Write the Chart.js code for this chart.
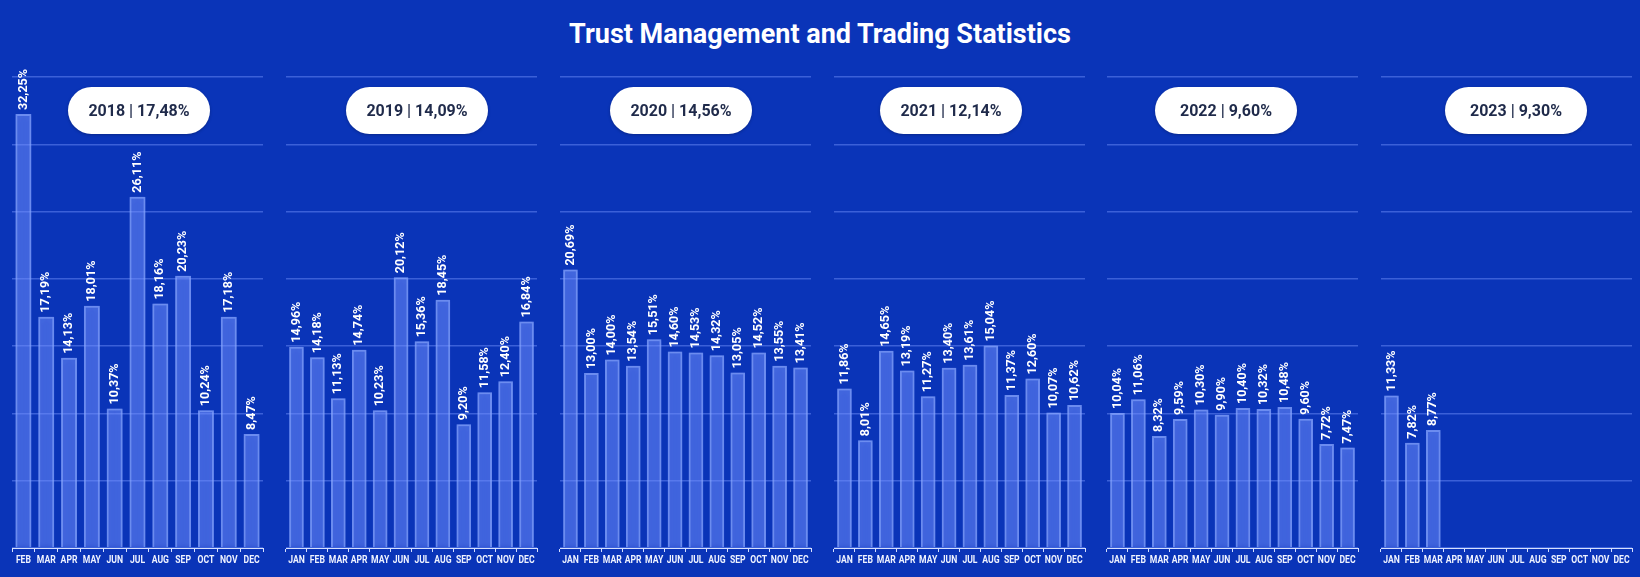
<!DOCTYPE html>
<html>
<head>
<meta charset="utf-8">
<script src="https://cdn.jsdelivr.net/npm/chart.js@4.4.1/dist/chart.umd.min.js"></script>
<style>
  html, body { margin: 0; padding: 0; }
  body { width: 1640px; height: 577px; background: #0a34b8; position: relative; overflow: hidden; font-family: Roboto, sans-serif; }
  #titulo { position: absolute; left: 0; top: 19px; width: 1640px; text-align: center; color: #fff; font: 700 27px/30px Roboto, sans-serif; }
  .panel { position: absolute; top: 0; width: 281px; height: 577px; }
  .pill { position: absolute; top: 87px; width: 142px; height: 47px; border-radius: 24px; background: #fff; color: #1f2a4a;
          font: 700 16px Roboto, sans-serif; display: flex; align-items: center; justify-content: center; z-index: 5;
          box-shadow: 0 1px 3px rgba(0,0,0,0.25); }
</style>
</head>
<body>
<div id="titulo">Trust Management and Trading Statistics</div>
<div id="contenedor"></div>

<script>
// meses
const meses = ["JAN", "FEB", "MAR", "APR", "MAY", "JUN", "JUL", "AUG", "SEP", "OCT", "NOV", "DEC"];
const meses2018 = ["FEB", "MAR", "APR", "MAY", "JUN", "JUL", "AUG", "SEP", "OCT", "NOV", "DEC"];

// rendimiento mensual (%)
const datos2018 = [32.25, 17.19, 14.13, 18.01, 10.37, 26.11, 18.16, 20.23, 10.24, 17.18, 8.47];
const datos2019 = [14.96, 14.18, 11.13, 14.74, 10.23, 20.12, 15.36, 18.45, 9.20, 11.58, 12.40, 16.84];
const datos2020 = [20.69, 13.00, 14.00, 13.54, 15.51, 14.60, 14.53, 14.32, 13.05, 14.52, 13.55, 13.41];
const datos2021 = [11.86, 8.01, 14.65, 13.19, 11.27, 13.40, 13.61, 15.04, 11.37, 12.60, 10.07, 10.62];
const datos2022 = [10.04, 11.06, 8.32, 9.59, 10.30, 9.90, 10.40, 10.32, 10.48, 9.60, 7.72, 7.47];
const datos2023 = [11.33, 7.82, 8.77, null, null, null, null, null, null, null, null, null];

// resumen anual
const anios = ["2018", "2019", "2020", "2021", "2022", "2023"];
const promedios = ["17,48%", "14,09%", "14,56%", "12,14%", "9,60%", "9,30%"];

// escala del eje Y
const ejeMax = 35;
const ejePaso = 5;

const paneles = [
    { etiquetas: meses2018, datos: datos2018 },
    { etiquetas: meses, datos: datos2019 },
    { etiquetas: meses, datos: datos2020 },
    { etiquetas: meses, datos: datos2021 },
    { etiquetas: meses, datos: datos2022 },
    { etiquetas: meses, datos: datos2023 },
];

// posición de cada panel (px)
const izquierdas = [12, 285.5, 559.5, 833.5, 1107, 1381];
const centrosPill = [139, 417, 681, 951, 1226, 1516];
const margen = 15;

const formato = v => v.toFixed(2).replace(".", ",") + "%";

// etiquetas verticales encima de las barras
const etiquetasBarras = {
    id: "etiquetasBarras",
    afterDatasetsDraw(chart) {
        const ctx = chart.ctx;
        const meta = chart.getDatasetMeta(0);
        const valores = chart.data.datasets[0].data;
        ctx.save();
        ctx.fillStyle = "#ffffff";
        ctx.font = "700 12.5px Roboto";
        ctx.textAlign = "left";
        ctx.textBaseline = "middle";
        meta.data.forEach((barra, i) => {
            const v = valores[i];
            if (v === null || v === undefined) return;
            ctx.save();
            ctx.translate(barra.x, barra.y - 4);
            ctx.rotate(-Math.PI / 2);
            ctx.fillText(formato(v), 0, 0);
            ctx.restore();
        });
        ctx.restore();
    }
};

// meses del eje X, un poco estrechos
const mesesEje = {
    id: "mesesEje",
    afterDraw(chart) {
        const ctx = chart.ctx;
        const x = chart.scales.x;
        ctx.save();
        ctx.fillStyle = "#eef2ff";
        ctx.font = "700 10.5px Roboto";
        ctx.textAlign = "center";
        ctx.textBaseline = "middle";
        chart.data.labels.forEach((m, i) => {
            ctx.save();
            ctx.translate(x.getPixelForTick(i), x.top + 12);
            ctx.scale(0.82, 1);
            ctx.fillText(m, 0, 0);
            ctx.restore();
        });
        ctx.restore();
    }
};

// brillo de las barras
const brillo = {
    id: "brillo",
    beforeDatasetsDraw(chart) {
        chart.ctx.save();
        chart.ctx.shadowColor = "rgba(140,170,255,0.9)";
        chart.ctx.shadowBlur = 5;
    },
    afterDatasetsDraw(chart) {
        chart.ctx.restore();
    }
};

const contenedor = document.getElementById("contenedor");

paneles.forEach((p, n) => {
    const div = document.createElement("div");
    div.className = "panel";
    div.style.left = (izquierdas[n] - margen) + "px";
    const canvas = document.createElement("canvas");
    div.appendChild(canvas);
    contenedor.appendChild(div);

    const pill = document.createElement("div");
    pill.className = "pill";
    pill.style.left = (centrosPill[n] - 71) + "px";
    pill.textContent = anios[n] + " | " + promedios[n];
    document.body.appendChild(pill);

    new Chart(canvas, {
        type: "bar",
        data: {
            labels: p.etiquetas,
            datasets: [{
                data: p.datos,
                backgroundColor: "rgba(100,130,255,0.32)",
                borderColor: "rgba(135,165,255,0.7)",
                borderWidth: 2,
                borderSkipped: "bottom",
                barPercentage: 0.7,
                categoryPercentage: 1
            }]
        },
        options: {
            responsive: true,
            maintainAspectRatio: false,
            animation: false,
            events: [],
            layout: { padding: { left: margen, right: margen, top: 77, bottom: 9 } },
            plugins: { legend: { display: false }, tooltip: { enabled: false } },
            scales: {
                y: {
                    min: 0,
                    max: ejeMax,
                    ticks: { display: false, stepSize: ejePaso },
                    grid: { color: "rgba(120,150,255,0.45)", lineWidth: 1.5, drawTicks: false },
                    border: { display: false }
                },
                x: {
                    afterFit(scale) { scale.height = 20; },
                    ticks: { display: false },
                    grid: { display: true, drawOnChartArea: false, drawTicks: true, tickLength: 4, color: "#d6e0ff" },
                    border: { display: true, color: "#d6e0ff", width: 1 }
                }
            }
        },
        plugins: [brillo, etiquetasBarras, mesesEje]
    });
});
</script>
</body>
</html>
